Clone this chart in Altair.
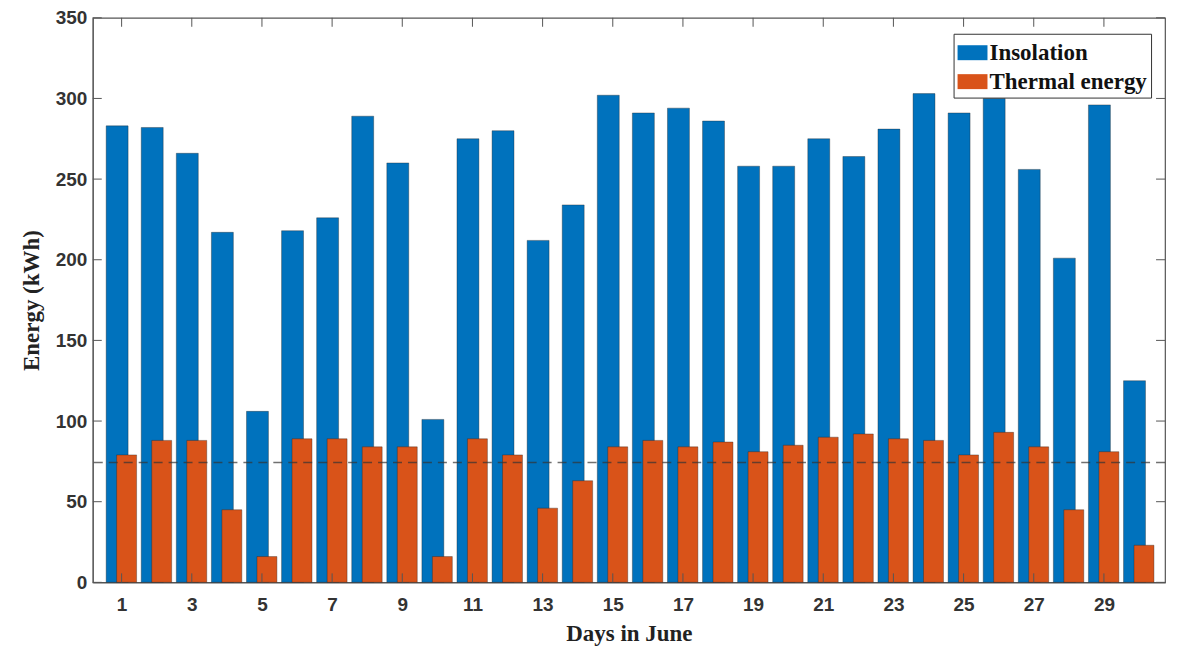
import altair as alt
import pandas as pd

days = list(range(1, 31))
insolation = [283, 282, 266, 217, 106, 218, 226, 289, 260, 101,
              275, 280, 212, 234, 302, 291, 294, 286, 258, 258,
              275, 264, 281, 303, 291, 300, 256, 201, 296, 125]
thermal = [79, 88, 88, 45, 16, 89, 89, 84, 84, 16,
           89, 79, 46, 63, 84, 88, 84, 87, 81, 85,
           90, 92, 89, 88, 79, 93, 84, 45, 81, 23]
series_names = ["Insolation", "Thermal energy"]
series_colors = ["#0072BD", "#D95319"]
x_tick_values = [1, 3, 5, 7, 9, 11, 13, 15, 17, 19, 21, 23, 25, 27, 29]
y_tick_values = [0, 50, 100, 150, 200, 250, 300, 350]

df = pd.DataFrame({
    "day": days * 2,
    "energy": insolation + thermal,
    "series": [series_names[0]] * len(days) + [series_names[1]] * len(days),
})
xt = pd.DataFrame({"v": x_tick_values})
yt = pd.DataFrame({"v": y_tick_values})

W, H = 1075, 566
TICK = 9
AX = "#555555"

xscale = alt.Scale(domain=[0.32, 30.6], nice=False, zero=False)
yscale = alt.Scale(domain=[0, 350], nice=False)

color = alt.Color(
    "series:N",
    scale=alt.Scale(domain=series_names, range=series_colors),
    legend=alt.Legend(
        title=None, orient="none", legendX=863, legendY=16,
        fillColor="white", strokeColor="#333333",
        padding=4, rowPadding=2,
        symbolType="M-1,-0.5H1V0.5H-1Z", symbolSize=900,
        symbolStrokeWidth=0, symbolOpacity=1,
        labelFont="Liberation Serif", labelFontWeight="bold",
        labelFontSize=23, labelColor="#111111", labelOffset=2,
        labelLimit=400,
    ),
)

xaxis = alt.Axis(
    values=x_tick_values, tickSize=0, labelPadding=13, grid=False,
    domainColor=AX, labelFont="Liberation Sans", labelFontWeight="bold",
    labelFontSize=19, labelColor="#333333", labelAngle=0,
    title="Days in June", titleFont="Liberation Serif", titleFontWeight="bold",
    titleFontSize=23, titleColor="#222222", titlePadding=8,
)
yaxis = alt.Axis(
    values=y_tick_values, tickSize=0, labelPadding=6, grid=False,
    domainColor=AX, labelFont="Liberation Sans", labelFontWeight="bold",
    labelFontSize=19, labelColor="#333333",
    title="Energy (kWh)", titleFont="Liberation Serif", titleFontWeight="bold",
    titleFontSize=23, titleColor="#222222", titlePadding=12,
)

base = alt.Chart(df)

blue = base.transform_filter(alt.datum.series == series_names[0]).mark_bar(
    size=22, xOffset=-4.5, stroke="#222222", strokeWidth=0.6, strokeOpacity=0.6
).encode(
    x=alt.X("day:Q", scale=xscale, axis=xaxis),
    y=alt.Y("energy:Q", scale=yscale, axis=yaxis),
    color=color,
)

orange = base.transform_filter(alt.datum.series == series_names[1]).mark_bar(
    size=20, xOffset=5, stroke="#222222", strokeWidth=0.6, strokeOpacity=0.6
).encode(
    x=alt.X("day:Q", scale=xscale),
    y=alt.Y("energy:Q", scale=yscale),
    color=color,
)

mean_line = base.transform_filter(alt.datum.series == series_names[1]).transform_aggregate(
    mean_energy="mean(energy)"
).mark_rule(strokeDash=[9, 6], color="#333333", strokeWidth=1.6, opacity=0.7).encode(
    y=alt.Y("mean_energy:Q", scale=yscale),
)

ytick_left = alt.Chart(yt).mark_rule(color=AX, strokeWidth=1).encode(
    y=alt.Y("v:Q", scale=yscale), x=alt.value(0), x2=alt.value(TICK))
ytick_right = alt.Chart(yt).mark_rule(color=AX, strokeWidth=1).encode(
    y=alt.Y("v:Q", scale=yscale), x=alt.value(W - TICK), x2=alt.value(W))
xtick_bottom = alt.Chart(xt).mark_rule(color=AX, strokeWidth=1).encode(
    x=alt.X("v:Q", scale=xscale), y=alt.value(H - TICK), y2=alt.value(H))
xtick_top = alt.Chart(xt).mark_rule(color=AX, strokeWidth=1).encode(
    x=alt.X("v:Q", scale=xscale), y=alt.value(0), y2=alt.value(TICK))

chart = alt.layer(
    blue, orange, mean_line, ytick_left, ytick_right, xtick_bottom, xtick_top
).properties(
    width=W, height=H,
    autosize=alt.AutoSizeParams(type="none"),
    padding={"left": 85, "top": 9, "right": 10, "bottom": 66},
    background="white",
).configure_view(
    stroke=AX, strokeWidth=1.2,
)

chart.save("out.html", embed_options={"renderer": "svg", "actions": False})
